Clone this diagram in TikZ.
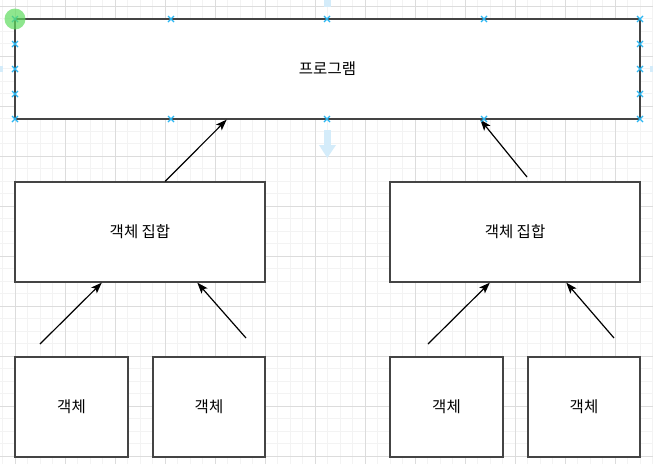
\documentclass[tikz,border=0pt]{standalone}
\usepackage{fontspec}
\newfontfamily\kr{Noto Sans CJK KR}
\usetikzlibrary{arrows.meta,calc}
\definecolor{boxline}{HTML}{444444}
\definecolor{minorgrid}{HTML}{F3F3F3}
\definecolor{majorgrid}{HTML}{DCDCDC}
\definecolor{handle}{HTML}{29B6F2}
\definecolor{guide}{HTML}{D4ECFA}
\definecolor{selgreen}{HTML}{5FDC5F}
\begin{document}
\begin{tikzpicture}[x=1pt,y=-1pt,
  box/.style={draw=boxline, line width=1.3pt, fill=white, inner sep=0pt,
    font=\kr\fontsize{15.5}{18}\selectfont},
  conn/.style={-{Stealth[length=11pt,width=8pt,inset=2.5pt]}, line width=1.2pt, black},
  mgrid/.style={draw=minorgrid, line width=0.8pt},
  Mgrid/.style={draw=majorgrid, line width=0.8pt},
  hmark/.style={draw=handle, line width=1.2pt}]
\useasboundingbox (0,0) rectangle (653,464);
\fill[white] (0,0) rectangle (653,464);
% grid
\foreach \i in {0,...,52} \draw[mgrid] ({2.5+12.5*\i},0) -- ({2.5+12.5*\i},464);
\foreach \i in {0,...,36} \draw[mgrid] (0,{6+12.5*\i}) -- (653,{6+12.5*\i});
\foreach \i in {0,...,12} \draw[Mgrid] ({15+50*\i},0) -- ({15+50*\i},464);
\foreach \i in {0,...,9} \draw[Mgrid] (0,{6+50*\i}) -- (653,{6+50*\i});
% guides
\fill[guide] (324,0) rectangle (330.5,7);
\fill[guide] (324,130) rectangle (330.5,145);
\fill[guide] (319,145) -- (336,145) -- (327.3,158) -- cycle;
\fill[guide] (0,66) rectangle (3,72);
\fill[guide] (650,66) rectangle (653,72);
% nodes
\node[box, minimum width=625pt, minimum height=100pt] (prog) at (327.5,69) {프로그램};
\node[box, minimum width=250pt, minimum height=100pt] (setL) at (140,232) {객체 집합};
\node[box, minimum width=250pt, minimum height=100pt] (setR) at (515,232) {객체 집합};
\node[box, minimum width=113pt, minimum height=100pt] (o1) at (71.5,407) {객체};
\node[box, minimum width=112pt, minimum height=100pt] (o2) at (209,407) {객체};
\node[box, minimum width=113pt, minimum height=100pt] (o3) at (446.5,407) {객체};
\node[box, minimum width=112pt, minimum height=100pt] (o4) at (584,407) {객체};
% free ends
\coordinate (a2) at (527,177);
\coordinate (b1) at (40,344);
\coordinate (b2) at (246,338);
\coordinate (b3) at (428,344);
\coordinate (b4) at (614,338);
% connectors
\draw[conn] ($(setL.north west)!0.6!(setL.north east)$) -- ($(prog.south west)!0.339!(prog.south east)$);
\draw[conn] (a2) -- ($(prog.south west)!0.744!(prog.south east)$);
\draw[conn] (b1) -- ($(setL.south west)!0.348!(setL.south east)$);
\draw[conn] (b2) -- ($(setL.south west)!0.728!(setL.south east)$);
\draw[conn] (b3) -- ($(setR.south west)!0.4!(setR.south east)$);
\draw[conn] (b4) -- ($(setR.south west)!0.704!(setR.south east)$);
% selection handles
\foreach \x/\y in {15/19,171/19,327/19,484/19,640/19,15/119,171/119,327/119,484/119,640/119,
  15/44,15/69,15/94,640/44,640/69,640/94}
  \draw[hmark] (\x-3,\y-3) -- (\x+3,\y+3) (\x-3,\y+3) -- (\x+3,\y-3);
\fill[selgreen, opacity=0.7] (15,19) circle (10.5);
\end{tikzpicture}
\end{document}
